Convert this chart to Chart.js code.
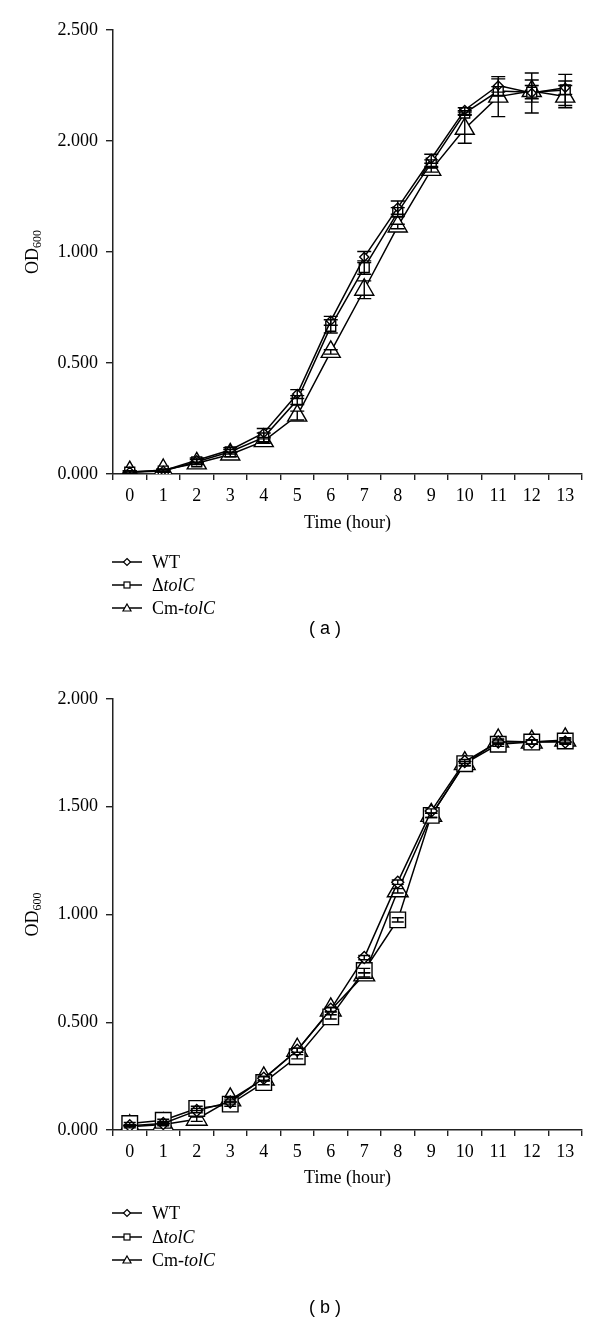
<!DOCTYPE html>
<html>
<head>
<meta charset="utf-8">
<script src="https://cdn.jsdelivr.net/npm/chart.js@4/dist/chart.umd.min.js"></script>
<style>
  html, body { margin: 0; padding: 0; background: #fff; }
  #wrap { position: relative; width: 600px; height: 1321px; background: #fff; overflow: hidden; }
  .box { position: absolute; left: 0; width: 600px; }
  .legend-row { position: absolute; left: 112px; height: 22px; display: flex; align-items: center;
    font-family: 'Liberation Serif', 'Times New Roman', serif; font-size: 18px; color: #000; white-space: nowrap; }
  .legend-row svg { display: block; margin-right: 10px; }
  .caption { position: absolute; width: 80px; text-align: center; font-family: 'Liberation Sans', Arial, sans-serif;
    font-size: 18px; color: #000; line-height: 22px; white-space: pre; }
</style>
</head>
<body>
<div id="wrap">
  <div class="box" style="top:0;height:650px;"><canvas id="chartA" width="600" height="650"></canvas></div>
  <div id="legendA"></div>
  <div class="caption" style="left:285px;top:617px;">( a )</div>
  <div class="box" style="top:655px;height:666px;"><canvas id="chartB" width="600" height="666"></canvas></div>
  <div id="legendB"></div>
  <div class="caption" style="left:285px;top:1296px;">( b )</div>
</div>
<script>
// ---------- data ----------
const hours = ['0','1','2','3','4','5','6','7','8','9','10','11','12','13'];
const seriesNames = ['WT', '\u0394tolC', 'Cm-tolC'];

// Panel (a) y tick labels (as printed in the figure, evenly spaced)
const yTicksA = ['0.000', '0.500', '1.000', '2.000', '2.500'];
// Panel (a) values in axis units (tick spacing 0.5)
const wtA = [0.010, 0.015, 0.062, 0.108, 0.185, 0.360, 0.690, 0.977, 1.200, 1.420, 1.640, 1.750, 1.716, 1.740];
const dtA = [0.008, 0.013, 0.055, 0.100, 0.165, 0.333, 0.665, 0.930, 1.180, 1.400, 1.626, 1.725, 1.720, 1.730];
const cmA = [0.008, 0.018, 0.048, 0.088, 0.148, 0.263, 0.550, 0.830, 1.115, 1.370, 1.555, 1.700, 1.725, 1.700];
const errWtA = [0.005, 0.005, 0.010, 0.010, 0.020, 0.020, 0.020, 0.025, 0.030, 0.020, 0.010, 0.030, 0.090, 0.030];
const errDtA = [0.005, 0.005, 0.010, 0.010, 0.020, 0.020, 0.030, 0.030, 0.020, 0.015, 0.010, 0.020, 0.030, 0.070];
const errCmA = [0.005, 0.005, 0.005, 0.010, 0.010, 0.020, 0.010, 0.040, 0.010, 0.010, 0.065, 0.090, 0.050, 0.050];

// Panel (b)
const yTicksB = ['0.000', '0.500', '1.000', '1.500', '2.000'];
const wtB = [0.020, 0.030, 0.090, 0.130, 0.240, 0.370, 0.560, 0.800, 1.150, 1.480, 1.710, 1.800, 1.800, 1.800];
const dtB = [0.030, 0.045, 0.100, 0.120, 0.220, 0.340, 0.525, 0.740, 0.975, 1.460, 1.700, 1.790, 1.800, 1.805];
const cmB = [0.015, 0.025, 0.050, 0.140, 0.237, 0.370, 0.557, 0.720, 1.110, 1.460, 1.700, 1.805, 1.800, 1.810];
const errWtB = [0.005, 0.005, 0.010, 0.010, 0.010, 0.010, 0.010, 0.010, 0.010, 0.010, 0.010, 0.010, 0.010, 0.010];
const errDtB = [0.005, 0.005, 0.010, 0.010, 0.010, 0.010, 0.010, 0.010, 0.010, 0.010, 0.010, 0.010, 0.010, 0.010];
const errCmB = [0.005, 0.005, 0.010, 0.010, 0.010, 0.010, 0.010, 0.010, 0.010, 0.010, 0.010, 0.010, 0.010, 0.010];

// ---------- styles ----------
const SERIF = "'Liberation Serif', 'Times New Roman', serif";
const pointStyles = ['rectRot', 'rect', 'triangle'];

// ---------- plugins ----------
const errorBars = {
  id: 'errorBars',
  afterDatasetsDraw(chart) {
    const ctx = chart.ctx;
    const ys = chart.scales.y;
    ctx.save();
    ctx.strokeStyle = '#000';
    ctx.lineWidth = 1.4;
    chart.data.datasets.forEach((ds, di) => {
      const meta = chart.getDatasetMeta(di);
      if (!ds.errors || meta.hidden) return;
      const cap = ds.capHalf || 7;
      meta.data.forEach((pt, i) => {
        const v = ds.data[i], e = ds.errors[i];
        if (!e) return;
        const y1 = ys.getPixelForValue(v + e);
        const y2 = ys.getPixelForValue(v - e);
        ctx.beginPath();
        ctx.moveTo(pt.x, y1); ctx.lineTo(pt.x, y2);
        ctx.moveTo(pt.x - cap, y1); ctx.lineTo(pt.x + cap, y1);
        ctx.moveTo(pt.x - cap, y2); ctx.lineTo(pt.x + cap, y2);
        ctx.stroke();
      });
    });
    ctx.restore();
  }
};

function makeYTitle(main, sub, xPos) {
  return {
    id: 'yTitleSub',
    afterDraw(chart) {
      const ctx = chart.ctx;
      const ca = chart.chartArea;
      const cy = (ca.top + ca.bottom) / 2;
      ctx.save();
      ctx.translate(xPos, cy);
      ctx.rotate(-Math.PI / 2);
      ctx.fillStyle = '#000';
      ctx.textBaseline = 'middle';
      ctx.font = "18px " + SERIF;
      const w1 = ctx.measureText(main).width;
      ctx.font = "12px " + SERIF;
      const w2 = ctx.measureText(sub).width;
      const start = -(w1 + w2) / 2;
      ctx.font = "18px " + SERIF;
      ctx.textAlign = 'left';
      ctx.fillText(main, start, 0);
      ctx.font = "12px " + SERIF;
      ctx.fillText(sub, start + w1, 5);
      ctx.restore();
    }
  };
}

function makeDatasets(values, errors, radii, caps) {
  return values.map((vals, i) => ({
    label: seriesNames[i],
    data: vals,
    errors: errors[i],
    capHalf: caps,
    borderColor: '#000',
    borderWidth: 1.5,
    backgroundColor: '#fff',
    pointStyle: pointStyles[i],
    pointRadius: radii[i],
    pointBorderWidth: 1.4,
    pointBackgroundColor: '#fff',
    pointBorderColor: '#000',
    tension: 0,
    fill: false
  }));
}

function makeChart(id, datasets, tickLabels, pad) {
  return new Chart(document.getElementById(id), {
    type: 'line',
    data: { labels: hours, datasets },
    options: {
      responsive: false,
      animation: false,
      devicePixelRatio: 1,
      layout: { padding: { left: 0, right: 18, top: pad.top, bottom: pad.bottom } },
      plugins: { legend: { display: false }, tooltip: { enabled: false } },
      scales: {
        x: {
          type: 'category',
          offset: true,
          grid: { offset: true, drawOnChartArea: false, drawTicks: true, tickLength: 6, color: '#222', lineWidth: 1.4 },
          border: { display: true, color: '#222', width: 1.5 },
          ticks: { color: '#000', font: { family: SERIF, size: 18 }, padding: 5, maxRotation: 0, autoSkip: false },
          title: { display: true, text: 'Time (hour)', color: '#000', font: { family: SERIF, size: 18 }, padding: 0 },
          afterFit(s) { s.height = pad.xh; }
        },
        y: {
          min: 0, max: 2.0,
          grid: { drawOnChartArea: false, drawTicks: true, tickLength: 7, color: '#222', lineWidth: 1.4 },
          border: { display: true, color: '#222', width: 1.5 },
          ticks: {
            stepSize: 0.5, color: '#000', font: { family: SERIF, size: 18 }, padding: 8,
            callback: (v, i) => tickLabels[i]
          },
          afterFit(s) { s.width = 113; }
        }
      }
    },
    plugins: [errorBars, makeYTitle('OD', '600', 33)]
  });
}

makeChart('chartA', makeDatasets([wtA, dtA, cmA], [errWtA, errDtA, errCmA], [4.5, 7, 11], 7),
  yTicksA, { top: 30, bottom: 116, xh: 60 });
makeChart('chartB', makeDatasets([wtB, dtB, cmB], [errWtB, errDtB, errCmB], [6, 11, 12], 6),
  yTicksB, { top: 44, bottom: 132, xh: 59 });

// ---------- HTML legends ----------
function markerSvg(style) {
  let shape = '';
  if (style === 'rectRot') shape = '<polygon points="15,3.5 18.5,7 15,10.5 11.5,7" fill="#fff" stroke="#000" stroke-width="1.2"/>';
  if (style === 'rect') shape = '<rect x="12" y="4" width="6" height="6" fill="#fff" stroke="#000" stroke-width="1.2"/>';
  if (style === 'triangle') shape = '<polygon points="15,3 19,10 11,10" fill="#fff" stroke="#000" stroke-width="1.2"/>';
  return '<svg width="30" height="14" viewBox="0 0 30 14"><line x1="0" y1="7" x2="30" y2="7" stroke="#000" stroke-width="1.5"/>' + shape + '</svg>';
}
function legendText(name) {
  if (name === '\u0394tolC') return '\u0394<i>tolC</i>';
  if (name === 'Cm-tolC') return 'Cm-<i>tolC</i>';
  return name;
}
function buildLegend(id, centers) {
  const el = document.getElementById(id);
  el.innerHTML = seriesNames.map((n, i) =>
    '<div class="legend-row" style="top:' + (centers[i] - 11) + 'px">' + markerSvg(pointStyles[i]) + '<span>' + legendText(n) + '</span></div>'
  ).join('');
}
buildLegend('legendA', [562, 585, 608]);
buildLegend('legendB', [1213, 1237, 1260]);
</script>
</body>
</html>
